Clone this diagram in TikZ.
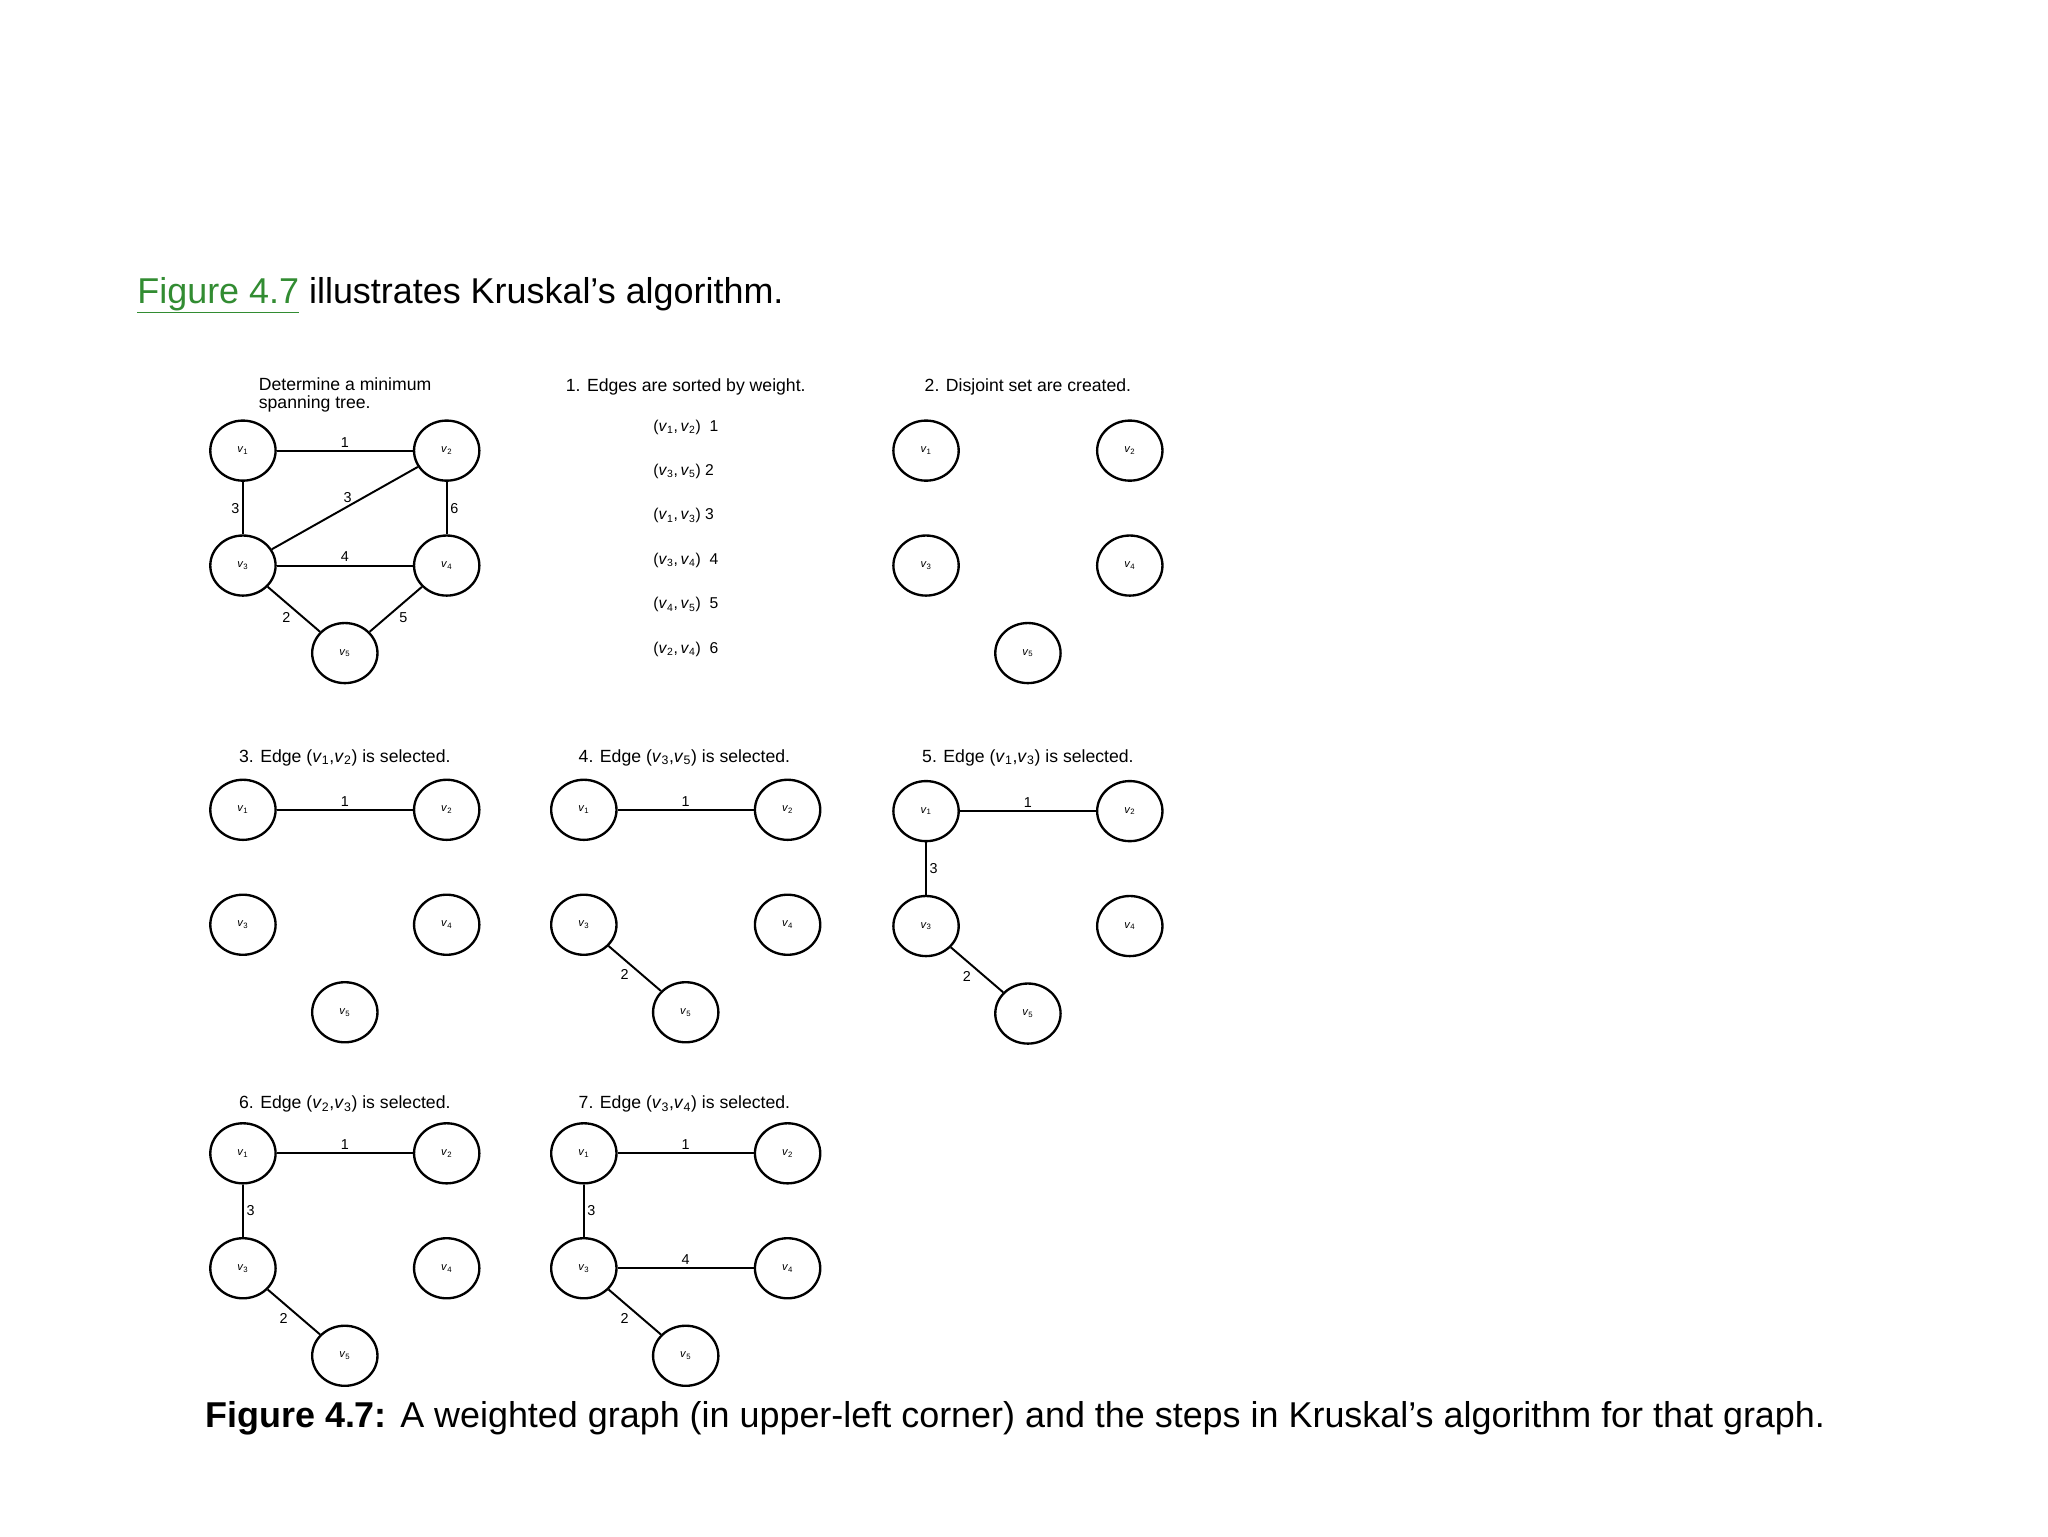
\documentclass[tikz,border=0pt]{standalone}
\usepackage{fontspec}
\setmainfont{Liberation Sans}
\usetikzlibrary{shapes.geometric}
\newcommand\myv[1]{\textit{v}\textsubscript{#1}}
\definecolor{linkgreen}{RGB}{50,140,50}
\newcommand\fivev[3]{%
  \node[vtx] (#1v1) at (#2,#3) {\myv1};
  \node[vtx] (#1v2) at ({#2+156},#3) {\myv2};
  \node[vtx] (#1v3) at (#2,{#3+88}) {\myv3};
  \node[vtx] (#1v4) at ({#2+156},{#3+88}) {\myv4};
  \node[vtx] (#1v5) at ({#2+78},{#3+155}) {\myv5};
}
\begin{document}
\begin{tikzpicture}[x=1pt,y=-1pt,
  vtx/.style={ellipse,draw,line width=1.8pt,minimum width=50pt,minimum height=46pt,inner sep=0pt,font=\fontsize{8.5}{9}\selectfont},
  edge/.style={line width=1.5pt},
  wt/.style={font=\fontsize{11}{12}\selectfont,inner sep=2pt},
  ttl/.style={font=\fontsize{13.5}{14}\selectfont,inner sep=0pt},
  lst/.style={font=\fontsize{12}{13}\selectfont,inner sep=0pt,anchor=west},
  big/.style={font=\fontsize{27.5}{30}\selectfont,inner sep=0pt,anchor=base west}]
\useasboundingbox (0,0) rectangle (1568,1176);
\fill[white] (0,0) rectangle (1568,1176);

\node[big] (intro) at (105,232) {\textcolor{linkgreen}{\underline{Figure 4.7}} illustrates Kruskal's algorithm.};

% panel 0
\node[ttl,anchor=north west,align=left] (t0) at (198,289) {Determine a minimum\\spanning tree.};
\fivev{A}{186}{345}
\draw[edge] (Av1) -- node[wt,above]{1} (Av2);
\draw[edge] (Av1) -- node[wt,left]{3} (Av3);
\draw[edge] (Av3) -- node[wt,above,pos=0.52]{3} (Av2);
\draw[edge] (Av2) -- node[wt,right]{6} (Av4);
\draw[edge] (Av3) -- node[wt,above]{4} (Av4);
\draw[edge] (Av3) -- node[wt,below left]{2} (Av5);
\draw[edge] (Av4) -- node[wt,below right]{5} (Av5);

% panel 1
\node[ttl] (t1) at (525,296) {1. Edges are sorted by weight.};
\node[lst] (l1) at (500,327) {(\myv1,\,\myv2)\ \ 1};
\node[lst] (l2) at (500,361) {(\myv3,\,\myv5)\ 2};
\node[lst] (l3) at (500,395) {(\myv1,\,\myv3)\ 3};
\node[lst] (l4) at (500,429) {(\myv3,\,\myv4)\ \ 4};
\node[lst] (l5) at (500,463) {(\myv4,\,\myv5)\ \ 5};
\node[lst] (l6) at (500,497) {(\myv2,\,\myv4)\ \ 6};

% panel 2
\node[ttl] (t2) at (787,296) {2. Disjoint set are created.};
\fivev{B}{709}{345}

% panel 3
\node[ttl] (t3) at (264,580) {3. Edge (\myv1,\myv2) is selected.};
\fivev{C}{186}{620}
\draw[edge] (Cv1) -- node[wt,above]{1} (Cv2);

% panel 4
\node[ttl] (t4) at (524,580) {4. Edge (\myv3,\myv5) is selected.};
\fivev{D}{447}{620}
\draw[edge] (Dv1) -- node[wt,above]{1} (Dv2);
\draw[edge] (Dv3) -- node[wt,below left,pos=0.45]{2} (Dv5);

% panel 5
\node[ttl] (t5) at (787,580) {5. Edge (\myv1,\myv3) is selected.};
\fivev{E}{709}{621}
\draw[edge] (Ev1) -- node[wt,above]{1} (Ev2);
\draw[edge] (Ev1) -- node[wt,right]{3} (Ev3);
\draw[edge] (Ev3) -- node[wt,below left,pos=0.45]{2} (Ev5);

% panel 6
\node[ttl] (t6) at (264,845) {6. Edge (\myv2,\myv3) is selected.};
\fivev{F}{186}{883}
\draw[edge] (Fv1) -- node[wt,above]{1} (Fv2);
\draw[edge] (Fv1) -- node[wt,right]{3} (Fv3);
\draw[edge] (Fv3) -- node[wt,below left,pos=0.45]{2} (Fv5);

% panel 7
\node[ttl] (t7) at (524,845) {7. Edge (\myv3,\myv4) is selected.};
\fivev{G}{447}{883}
\draw[edge] (Gv1) -- node[wt,above]{1} (Gv2);
\draw[edge] (Gv1) -- node[wt,right]{3} (Gv3);
\draw[edge] (Gv3) -- node[wt,above]{4} (Gv4);
\draw[edge] (Gv3) -- node[wt,below left,pos=0.45]{2} (Gv5);

\node[big] (cap) at (157,1093) {\textbf{Figure 4.7:} A weighted graph (in upper-left corner) and the steps in Kruskal's algorithm for that graph.};
\end{tikzpicture}
\end{document}
